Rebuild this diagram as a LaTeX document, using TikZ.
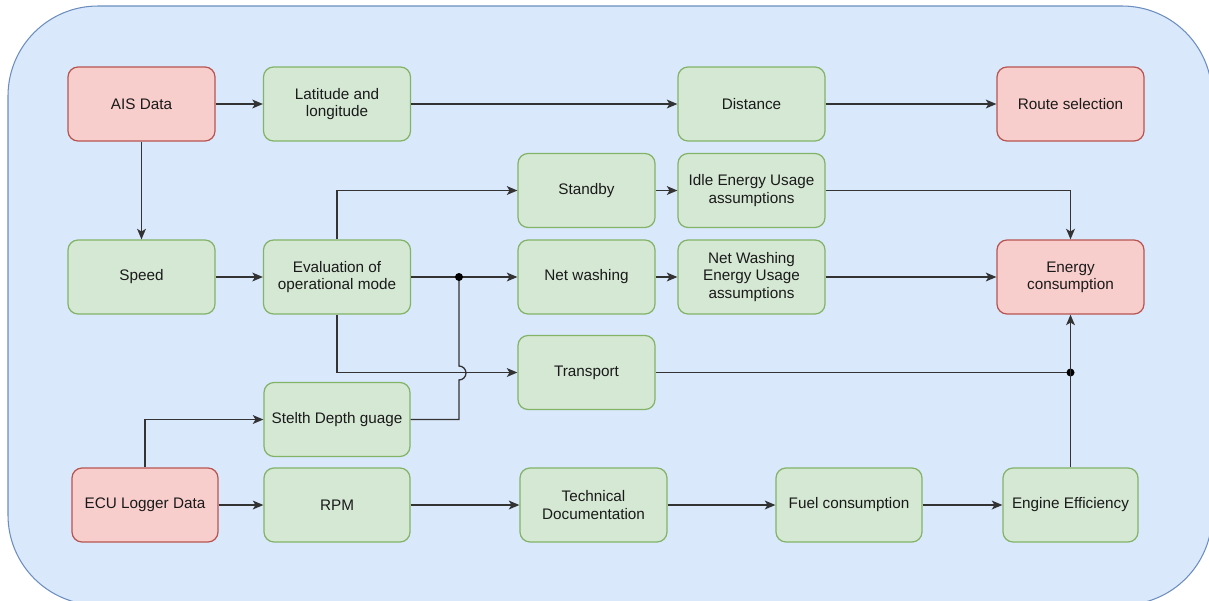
\documentclass[tikz,border=0pt]{standalone}
\usepackage{fontspec}
\setmainfont{Liberation Sans}
\usetikzlibrary{arrows.meta}
\definecolor{gfill}{HTML}{D5E8D4}
\definecolor{gdraw}{HTML}{82B366}
\definecolor{rfill}{HTML}{F8CECC}
\definecolor{rdraw}{HTML}{B85450}
\definecolor{bfill}{HTML}{DAE8FC}
\definecolor{bdraw}{HTML}{6C8EBF}
\definecolor{txt}{HTML}{1A1A1A}
\def\px{0.02cm}
\tikzset{
  box/.style={rounded corners=0.2cm, line width=0.7pt, minimum height=74*\px, minimum width=147*\px,
    align=center, text=txt, font=\fontsize{8.7}{9.8}\selectfont, inner sep=1pt},
  gbox/.style={box, fill=gfill, draw=gdraw},
  rbox/.style={box, fill=rfill, draw=rdraw},
  conn/.style={line width=0.75pt, draw=black!80},
  arr/.style={conn, -{Stealth[length=6pt,width=5pt,inset=1.5pt]}},
}
\begin{document}
\begin{tikzpicture}[x=0.02cm,y=-0.02cm]
\useasboundingbox (0,0) rectangle (1209,600);
\draw[fill=bfill, draw=bdraw, line width=0.6pt, rounded corners=1.8cm] (8,6) rectangle (1212,605);

\node[rbox] (ais) at (141.5,104) {AIS Data};
\node[gbox] (lat) at (337,104) {Latitude and\\longitude};
\node[gbox] (dist) at (751.5,104) {Distance};
\node[rbox] (route) at (1070.5,104) {Route selection};
\node[gbox, minimum width=137*\px] (standby) at (586.5,190.5) {Standby};
\node[gbox] (idle) at (751.5,190.5) {Idle Energy Usage\\assumptions};
\node[gbox] (speed) at (141.5,277) {Speed};
\node[gbox] (eval) at (337,277) {Evaluation of\\operational mode};
\node[gbox, minimum width=137*\px] (netw) at (586.5,277) {Net washing};
\node[gbox] (netass) at (751.5,277) {Net Washing\\Energy Usage\\assumptions};
\node[rbox] (energy) at (1070.5,277) {Energy\\consumption};
\node[gbox, minimum width=137*\px] (transport) at (586.5,372.5) {Transport};
\node[gbox, minimum width=146*\px] (stelth) at (337,419.5) {Stelth Depth guage};
\node[rbox, minimum width=146*\px] (ecu) at (145,505) {ECU Logger Data};
\node[gbox, minimum width=146*\px] (rpm) at (337,505) {RPM};
\node[gbox] (tech) at (593.5,505) {Technical\\Documentation};
\node[gbox, minimum width=146*\px] (fuel) at (849,505) {Fuel consumption};
\node[gbox, minimum width=135*\px] (engine) at (1070.5,505) {Engine Efficiency};

\coordinate (jdot) at (459,277);
\coordinate (hopb) at (459,380);

\draw[arr] (ais) -- (lat);
\draw[arr] (lat) -- (dist);
\draw[arr] (dist) -- (route);
\draw[arr] (ais) -- (speed);
\draw[arr] (speed) -- (eval);
\draw[arr] (eval.north) |- (standby.west);
\draw[arr] (eval) -- (netw);
\draw[arr] (eval.south) |- (transport.west);
\draw[conn] (stelth.east) -- (stelth.east -| jdot) -- (hopb) arc[start angle=-90, end angle=90, radius=7*\px] -- (jdot);
\fill (jdot) circle (4*\px);
\draw[arr] (ecu.north) |- (stelth.west);
\draw[arr] (standby) -- (idle);
\draw[arr] (netw) -- (netass);
\draw[arr] (idle.east) -| (energy.north);
\draw[arr] (netass) -- (energy);
\draw[conn] (transport.east) -- (transport.east -| engine.north);
\fill (transport.east -| engine.north) circle (4*\px);
\draw[arr] (engine) -- (energy);
\draw[arr] (ecu) -- (rpm);
\draw[arr] (rpm) -- (tech);
\draw[arr] (tech) -- (fuel);
\draw[arr] (fuel) -- (engine);
\end{tikzpicture}
\end{document}
